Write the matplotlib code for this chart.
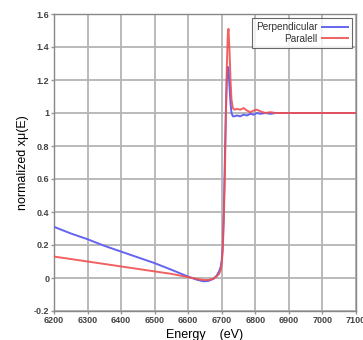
import matplotlib
matplotlib.use("Agg")
import matplotlib.pyplot as plt

energy = [6200, 6250, 6300, 6350, 6400, 6450, 6500, 6550, 6600, 6625, 6645, 6660,
          6675, 6685, 6692, 6697, 6700, 6703, 6706, 6709, 6712, 6715, 6718, 6720,
          6723, 6726, 6729, 6733, 6738, 6745, 6755, 6765, 6775, 6785, 6795, 6805,
          6815, 6830, 6845, 6860, 6880, 6900, 6950, 7000, 7050, 7100]

perpendicular = [0.31, 0.27, 0.235, 0.195, 0.16, 0.125, 0.09, 0.05, 0.008, -0.01, -0.02, -0.018,
                 -0.005, 0.015, 0.04, 0.07, 0.11, 0.2, 0.4, 0.7, 1.0, 1.2, 1.28, 1.26,
                 1.16, 1.06, 1.0, 0.98, 0.98, 0.985, 0.98, 0.99, 0.985, 0.995, 0.99, 1.0,
                 0.995, 1.0, 0.995, 1.0, 1.0, 1.0, 1.0, 1.0, 1.0, 1.0]

parallel = [0.13, 0.115, 0.1, 0.085, 0.07, 0.055, 0.04, 0.025, 0.005, -0.005, -0.012, -0.012,
            -0.005, 0.01, 0.025, 0.05, 0.09, 0.17, 0.35, 0.6, 0.95, 1.28, 1.48, 1.51,
            1.38, 1.2, 1.08, 1.03, 1.02, 1.025, 1.02, 1.03, 1.015, 1.005, 1.015, 1.02,
            1.01, 1.0, 1.005, 1.0, 1.0, 1.0, 1.0, 1.0, 1.0, 1.0]

xticks = [6200, 6300, 6400, 6500, 6600, 6700, 6800, 6900, 7000, 7100]
yticks = [-0.2, 0, 0.2, 0.4, 0.6, 0.8, 1, 1.2, 1.4, 1.6]
ytick_labels = ["-0.2", "0", "0.2", "0.4", "0.6", "0.8", "1", "1.2", "1.4", "1.6"]

plt.rcParams['font.family'] = ['Liberation Sans', 'DejaVu Sans']

fig = plt.figure(figsize=(3.63, 3.40), dpi=100)
ax = fig.add_axes([54/363, 29/340, 302/363, 297/340])

ax.plot(energy, perpendicular, color='#6464f0', lw=1.4, label='Perpendicular', zorder=3)
ax.plot(energy, parallel, color='#f05050', lw=1.4, label='Paralell', zorder=3, alpha=0.9)

ax.set_xlim(6200, 7100)
ax.set_ylim(-0.2, 1.6)
ax.set_xticks(xticks)
ax.set_xticklabels([str(t) for t in xticks], fontsize=6.5, fontweight='bold', color='#444444')
ax.set_yticks(yticks)
ax.set_yticklabels(ytick_labels, fontsize=6.5, fontweight='bold', color='#444444')
ax.tick_params(direction='out', length=2, width=1, color='#999999', pad=1.5)
ax.grid(True, color='#b4b4b4', lw=1.3)
ax.set_axisbelow(True)
for s in ax.spines.values():
    s.set_color('#888888')
    s.set_linewidth(1.0)

ax.set_xlabel('Energy    (eV)', fontsize=9, labelpad=3)
ax.set_ylabel('normalized xμ(E)', fontsize=9, labelpad=3)

leg = ax.legend(loc='upper right', bbox_to_anchor=(0.987, 0.987), markerfirst=False,
                fontsize=7.2, frameon=True, fancybox=False, handlelength=2.6,
                borderpad=0.45, labelspacing=0.12, handletextpad=0.4, borderaxespad=0)
leg.get_frame().set_edgecolor('#444444')
leg.get_frame().set_linewidth(0.8)
for t in leg.get_texts():
    t.set_ha('right')
    t.set_color('#333333')

fig.savefig('out.png', dpi=100)
